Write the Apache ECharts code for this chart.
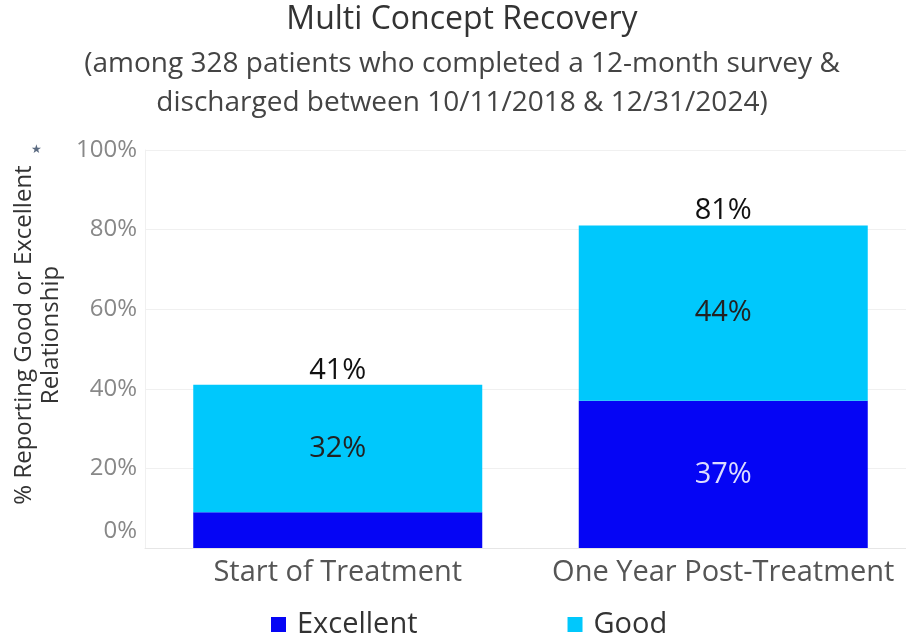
<!DOCTYPE html>
<html>
<head>
<meta charset="utf-8">
<script src="https://cdn.jsdelivr.net/npm/echarts@6/dist/echarts.min.js"></script>
<style>
  html, body { margin: 0; padding: 0; background: #fff; }
</style>
</head>
<body>
<div id="chart" style="width: 906px; height: 636px;"></div>
<script>
  const categories = ['Start of Treatment', 'One Year Post-Treatment'];
  const excellent = [9, 37];
  const good = [32, 44];
  const totals = [41, 81];
  const yTicks = [0, 20, 40, 60, 80, 100];

  const font = 'Open Sans';

  let chart = echarts.init(document.getElementById('chart'));

  let option = {
    textStyle: { fontFamily: font },
    title: [
      {
        text: 'Multi Concept Recovery',
        left: 457,
        textAlign: 'center',
        top: -1,
        textStyle: { fontFamily: font, fontSize: 32, fontWeight: 'normal', color: '#333' }
      },
      {
        text: '(among 328 patients who completed a 12-month survey &\ndischarged between 10/11/2018 & 12/31/2024)',
        left: 457,
        textAlign: 'center',
        top: 40,
        textStyle: { fontFamily: font, fontSize: 28, fontWeight: 'normal', color: '#444', lineHeight: 39 }
      }
    ],
    graphic: [
      {
        type: 'text',
        left: 31,
        top: 144,
        style: { text: '★', fontSize: 12, fill: '#5a6a80' }
      }
    ],
    legend: {
      bottom: -8,
      left: 266,
      itemWidth: 15,
      itemHeight: 15,
      itemGap: 150,
      icon: 'rect',
      data: ['Excellent', 'Good'],
      textStyle: { fontFamily: font, fontSize: 29, color: '#333', padding: [0, 0, 0, 6] }
    },
    grid: { left: 145, top: 150, width: 771, height: 398, outerBoundsMode: 'none' },
    xAxis: {
      type: 'category',
      data: categories,
      axisLine: { lineStyle: { color: '#e6e6e6' } },
      axisTick: { show: false },
      axisLabel: { fontFamily: font, fontSize: 29, color: '#555', margin: 10, interval: 0, hideOverlap: false }
    },
    yAxis: {
      type: 'value',
      min: 0,
      max: 100,
      interval: 20,
      name: '% Reporting Good or Excellent\nRelationship',
      nameLocation: 'middle',
      nameGap: 72,
      nameRotate: 90,
      nameTextStyle: { fontFamily: font, fontSize: 24, color: '#333', lineHeight: 27, padding: [0, 0, 0, 28] },
      axisLine: { show: true, lineStyle: { color: '#f0f0f0' } },
      axisTick: { show: false },
      splitLine: { lineStyle: { color: '#f0f0f0' } },
      axisLabel: {
        fontFamily: font,
        fontSize: 24,
        color: '#888',
        margin: 8,
        formatter: function (v) {
          if (yTicks.indexOf(v) < 0) return '';
          return v === 0 ? '{zero|0%}' : v + '%';
        },
        rich: {
          zero: { fontFamily: font, fontSize: 24, color: '#888', padding: [0, 0, 34, 0] }
        }
      }
    },
    series: [
      {
        name: 'Excellent',
        type: 'bar',
        stack: 'total',
        barWidth: 289,
        data: excellent,
        itemStyle: { color: '#0505f5' },
        label: {
          show: true,
          position: 'inside',
          fontFamily: font,
          fontSize: 29,
          color: '#dcdcff',
          formatter: function (p) { return p.value >= 10 ? p.value + '%' : ''; }
        }
      },
      {
        name: 'Good',
        type: 'bar',
        stack: 'total',
        barWidth: 289,
        data: good,
        itemStyle: { color: '#00c8fc' },
        label: {
          show: true,
          position: 'inside',
          fontFamily: font,
          fontSize: 29,
          color: '#222',
          formatter: '{c}%'
        }
      },
      {
        name: 'Total',
        type: 'bar',
        stack: 'total',
        barWidth: 289,
        data: totals.map(function () { return 0; }),
        itemStyle: { color: 'transparent' },
        label: {
          show: true,
          position: 'top',
          distance: 0,
          fontFamily: font,
          fontSize: 29,
          fontWeight: 500,
          color: '#111',
          formatter: function (p) { return totals[p.dataIndex] + '%'; }
        }
      }
    ]
  };

  chart.setOption(option);
</script>
</body>
</html>
